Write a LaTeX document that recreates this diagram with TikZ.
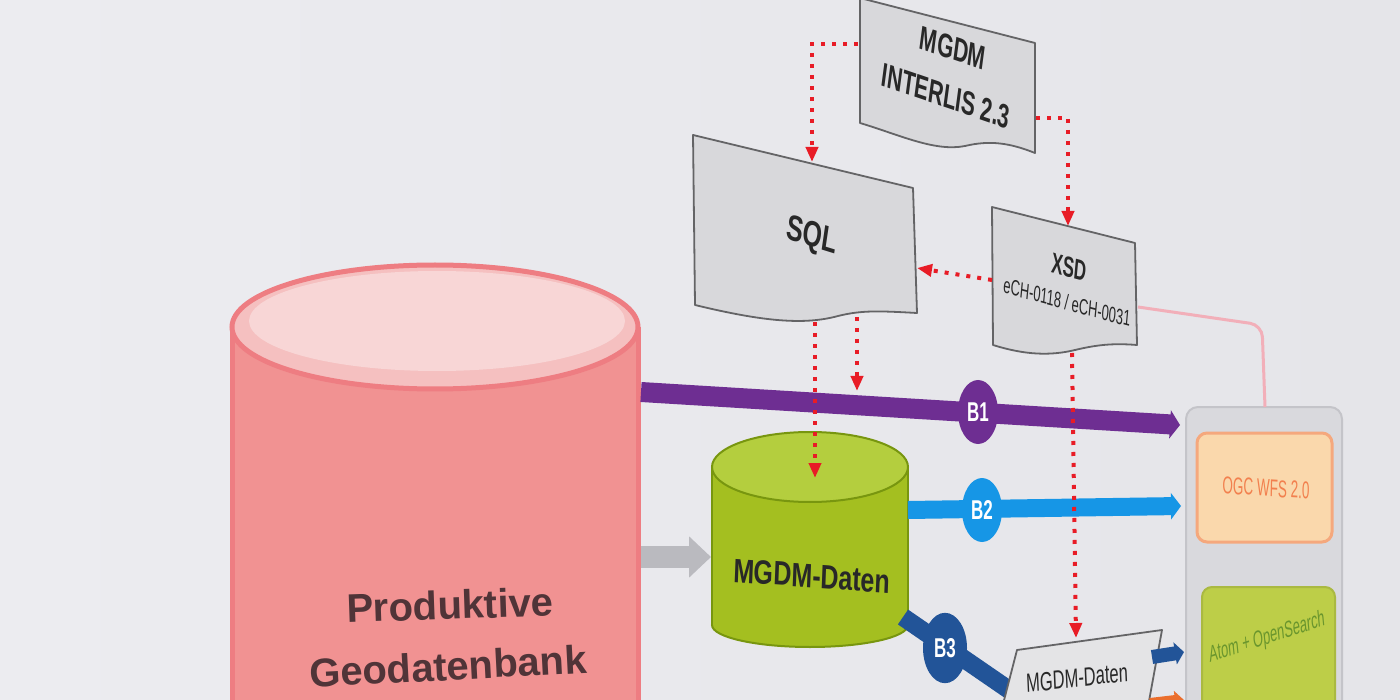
\documentclass[tikz,border=0pt]{standalone}
\usepackage{fontspec}
\setmainfont{Liberation Sans}
\usetikzlibrary{arrows.meta,shapes.geometric}
\definecolor{bg}{RGB}{236,236,240}
\definecolor{bgb}{RGB}{229,229,233}
\definecolor{pinkbody}{RGB}{241,146,146}
\definecolor{pinktop}{RGB}{245,192,192}
\definecolor{pinkinner}{RGB}{248,214,214}
\definecolor{pinkedge}{RGB}{238,125,130}
\definecolor{pinktext}{RGB}{80,52,56}
\definecolor{greenbody}{RGB}{164,191,32}
\definecolor{greentop}{RGB}{180,206,62}
\definecolor{greenedge}{RGB}{120,150,15}
\definecolor{bpurple}{RGB}{110,46,146}
\definecolor{bblue}{RGB}{22,150,230}
\definecolor{bdark}{RGB}{34,84,152}
\definecolor{reddot}{RGB}{232,28,38}
\definecolor{boxgrey}{RGB}{216,216,219}
\definecolor{boxedge}{RGB}{100,100,102}
\definecolor{contfill}{RGB}{217,217,221}
\definecolor{contedge}{RGB}{196,196,201}
\definecolor{orfill}{RGB}{250,216,172}
\definecolor{oredge}{RGB}{245,168,125}
\definecolor{ortext}{RGB}{242,128,78}
\definecolor{gbfill}{RGB}{189,206,72}
\definecolor{gbtext}{RGB}{106,150,45}
\definecolor{arrgrey}{RGB}{186,186,191}
\definecolor{paleline}{RGB}{242,175,185}
\definecolor{txt}{RGB}{40,40,40}
\definecolor{borange}{RGB}{235,110,45}
\begin{document}
\begin{tikzpicture}[x=1pt,y=-1pt,
  docbox/.style={fill=boxgrey,draw=boxedge,line width=1.8pt,line join=round},
  reddots/.style={draw=reddot,line width=4pt,dash pattern=on 4pt off 7pt,-{Triangle[length=15pt,width=12pt]}},
  bcirc/.style={circle,minimum size=40pt,inner sep=0pt,text=white,font=\bfseries\fontsize{17}{17}\selectfont,yscale=1.6},
  doctext/.style={text=txt,inner sep=0pt,align=center}
]
\useasboundingbox (0,0) rectangle (1400,700);
\clip (0,0) rectangle (1400,700);
\shade[left color=bg,right color=bgb] (0,0) rectangle (1400,700);

% coordinates for connector ends
\coordinate (pinkB1) at (641,392);
\coordinate (pinkR) at (641,557);
\coordinate (contB1) at (1180,425);
\coordinate (contB2) at (1181,506);
\coordinate (gL) at (711,557);
\coordinate (gR) at (908,510);
\coordinate (gBR) at (903,617);
\coordinate (gTop) at (815,478);
\coordinate (docL) at (1015,694);
\coordinate (docT) at (1076,638);
\coordinate (docR) at (1152,657);
\coordinate (contDoc) at (1184,652);
\coordinate (mgdmL) at (858,44);
\coordinate (mgdmR) at (1036,118);
\coordinate (sqlT) at (812,162);
\coordinate (sqlR) at (917,268);
\coordinate (sqlB1) at (815,322);
\coordinate (sqlB2) at (857,317);
\coordinate (b1in) at (857,391);
\coordinate (xsdT) at (1068,226);
\coordinate (xsdL) at (992,280);
\coordinate (xsdB) at (1072,353);
\coordinate (xsdR) at (1138,307);
\coordinate (contTop) at (1265,407);
\coordinate (orIn) at (1150,704);
\coordinate (orEnd) at (1184,700);

% pink cylinder
\fill[pinkbody] (232,327) rectangle (638,720);
\draw[pinkedge,line width=5pt] (232,720) -- (232,327) (638,327) -- (638,720);
\draw[fill=pinktop,draw=pinkedge,line width=5pt] (435,327) ellipse [x radius=203, y radius=62];
\fill[pinkinner] (437,321) ellipse [x radius=188, y radius=50];
\node[font=\bfseries\fontsize{40}{40}\selectfont,text=pinktext,rotate=2] (prod1) at (450,605) {Produktive};
\node[font=\bfseries\fontsize{40}{40}\selectfont,text=pinktext,rotate=3] (prod2) at (448,666) {Geodatenbank};

% grey arrow
\draw[arrgrey,line width=22pt,-{Triangle[length=22pt,width=40pt]}] (pinkR) -- (gL);

% purple band B1
\draw[bpurple,line width=20pt,-{Triangle[length=10pt,width=28pt]}] (pinkB1) -- (contB1);

% green cylinder
\fill[greenbody] (712,467) rectangle (908,625);
\draw[fill=greenbody,draw=greenedge,line width=2pt] (810,625) ellipse [x radius=98, y radius=22];
\fill[greenbody] (713,467) rectangle (907,625);
\draw[greenedge,line width=2pt] (712,467) -- (712,625) (908,467) -- (908,625);
\draw[fill=greentop,draw=greenedge,line width=2pt] (810,467) ellipse [x radius=98, y radius=35];
\node[font=\bfseries\fontsize{25}{25}\selectfont,text=txt,yscale=1.35,rotate=-3] (gdata) at (812,576) {MGDM-Daten};

% blue band B2 and dark band B3
\draw[bblue,line width=18pt,-{Triangle[length=10pt,width=26pt]}] (gR) -- (contB2);
\draw[bdark,line width=18pt] (gBR) -- (docL);

% MGDM INTERLIS box
\path[docbox] (860,-2) -- (1035,43) -- (1035,153)
  .. controls (1010,143) and (990,140) .. (965,146)
  .. controls (935,152) and (900,135) .. (860,123) -- cycle;
\node[doctext,font=\bfseries\fontsize{21}{21}\selectfont,yscale=1.6,rotate=-12] (mgdm1) at (953,48) {MGDM};
\node[doctext,font=\bfseries\fontsize{21}{21}\selectfont,yscale=1.6,rotate=-12] (mgdm2) at (946,96) {INTERLIS 2.3};

% SQL box
\path[docbox] (693,135) -- (913,188) -- (917,313)
  .. controls (880,311) and (862,310) .. (838,316)
  .. controls (805,325) and (765,322) .. (695,305) -- cycle;
\node[doctext,font=\bfseries\fontsize{25}{25}\selectfont,yscale=1.45,rotate=-12] (sql) at (812,237) {SQL};

% XSD box
\path[docbox] (992,207) -- (1135,243) -- (1137,345)
  .. controls (1112,343) and (1096,345) .. (1075,350)
  .. controls (1050,356) and (1025,355) .. (993,345) -- cycle;
\node[doctext,font=\bfseries\fontsize{17}{17}\selectfont,yscale=1.7,rotate=-9] (xsd1) at (1069,267) {XSD};
\node[doctext,font=\fontsize{13}{13}\selectfont,yscale=1.7,rotate=-9] (xsd2) at (1067,302) {eCH-0118 / eCH-0031};

% bottom data shape
\path[docbox,fill=boxgrey!70!white] (1017,650) -- (1162,630) -- (1147,712) -- (1001,712) -- cycle;
\node[doctext,font=\fontsize{16.5}{16.5}\selectfont,yscale=1.6,rotate=4] (bdata) at (1077,678) {MGDM-Daten};

% right container
\draw[fill=contfill,draw=contedge,line width=2pt,rounded corners=12pt] (1186,407) rectangle (1342,720);
\draw[fill=orfill,draw=oredge,line width=3pt,rounded corners=10pt] (1197,433) rectangle (1332,542);
\node[text=ortext,font=\fontsize{13.5}{13.5}\selectfont,yscale=1.8,rotate=-2] (wfs) at (1266,488) {OGC WFS 2.0};
\draw[fill=gbfill,draw=gbfill!90!black,line width=2pt,rounded corners=10pt] (1202,587) rectangle (1335,720);
\node[text=gbtext,font=\fontsize{12.9}{12.9}\selectfont,yscale=1.8,rotate=10] (atom) at (1267,638) {Atom + OpenSearch};

% small arrows into container
\draw[bdark,line width=14pt,-{Triangle[length=9pt,width=22pt]}] (docR) -- (contDoc);
\draw[borange,line width=12pt,-{Triangle[length=9pt,width=20pt]}] (orIn) -- (orEnd);

% B circles
\node[bcirc,fill=bpurple] (b1) at (978,412) {B1};
\node[bcirc,fill=bblue] (b2) at (982,510) {B2};
\node[bcirc,fill=bdark,minimum size=44pt] (b3) at (945,648) {B3};

% dotted red connectors
\draw[reddots] (mgdmL) -| (sqlT);
\draw[reddots] (mgdmR) -| (xsdT);
\draw[reddots] (xsdL) -- (sqlR);
\draw[reddots] (sqlB1) -- (gTop);
\draw[reddots] (sqlB2) -- (b1in);
\draw[reddots] (xsdB) -- (docT);

% pale link from XSD to container
\draw[paleline,line width=3pt,rounded corners=12pt] (xsdR) -- (1262,325) -- (contTop);
\end{tikzpicture}
\end{document}
